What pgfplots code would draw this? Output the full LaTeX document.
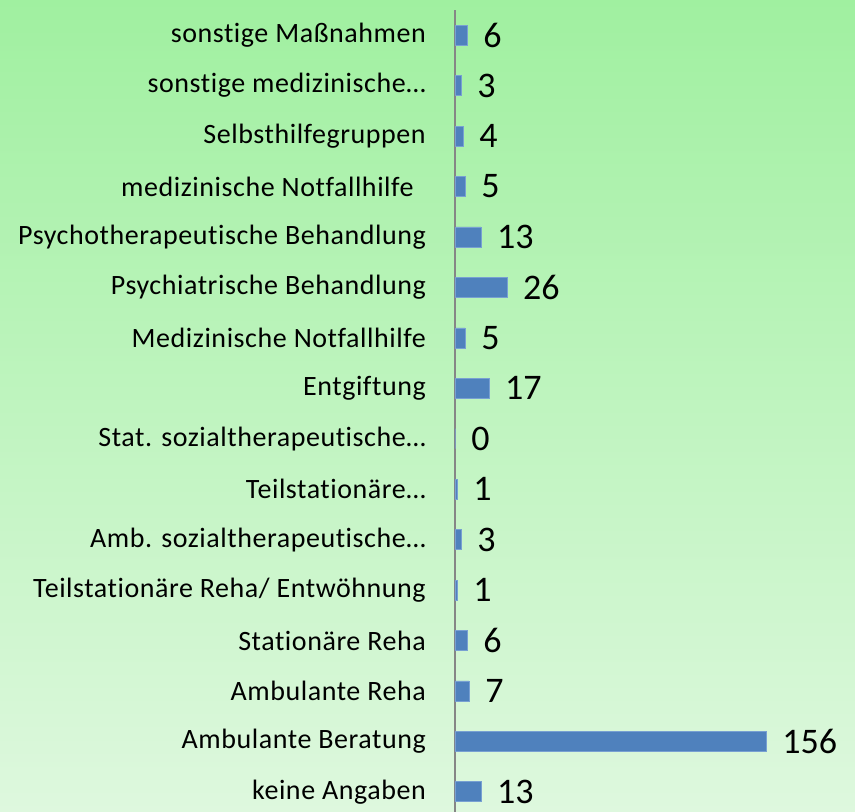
\documentclass[border=0pt]{standalone}
\usepackage{pgfplots}
\pgfplotsset{compat=1.18}
\usepackage{fontspec}
\setmainfont{Carlito}[Ligatures=NoCommon]
\newfontfamily\labelfont{Carlito}[Ligatures=NoCommon, LetterSpace=2]
\definecolor{barblue}{RGB}{79,129,189}
\definecolor{baredge}{RGB}{120,160,210}
\definecolor{bgtop}{RGB}{160,240,160}
\definecolor{bgbot}{RGB}{222,248,222}
\definecolor{axgray}{RGB}{134,134,134}
\begin{document}
\begin{tikzpicture}
\shade[top color=bgtop, bottom color=bgbot] (0pt,0pt) rectangle (855pt,812pt);
\begin{axis}[
  at={(455pt,-5pt)}, anchor=south west,
  scale only axis, width=400pt, height=807pt,
  xbar, bar width=20pt,
  xmin=0, xmax=200.6, ymin=-0.5, ymax=15.5,
  axis x line=none, axis y line=left,
  y axis line style={-, draw=axgray, line width=1.2pt},
  ytick={0,...,15}, major tick length=0pt,
  yticklabels={keine Angaben, Ambulante Beratung, Ambulante Reha, Stationäre Reha,
    Teilstationäre Reha/ Entwöhnung, Amb. sozialtherapeutische…, Teilstationäre…,
    Stat. sozialtherapeutische…, Entgiftung, Medizinische Notfallhilfe,
    Psychiatrische Behandlung, Psychotherapeutische Behandlung,
    medizinische Notfallhilfe\hphantom{x}, Selbsthilfegruppen, sonstige medizinische…, sonstige Maßnahmen},
  yticklabel style={font=\labelfont\fontsize{28}{28}\selectfont, inner sep=0pt, xshift=-29pt, text=black},
  nodes near coords={\pgfmathprintnumber[assume math mode=true]{\pgfplotspointmeta}},
  nodes near coords style={font=\fontsize{36}{36}\selectfont, anchor=west, inner sep=0pt, xshift=16pt, text=black},
  clip=false,
]
\addplot[fill=barblue, draw=baredge, line width=0.6pt] coordinates {
(13,0) (156,1) (7,2) (6,3) (1,4) (3,5) (1,6) (0,7) (17,8) (5,9) (26,10) (13,11) (5,12) (4,13) (3,14) (6,15)};
\end{axis}
\pgfresetboundingbox
\path[use as bounding box] (0pt,0pt) rectangle (855pt,812pt);
\end{tikzpicture}
\end{document}
